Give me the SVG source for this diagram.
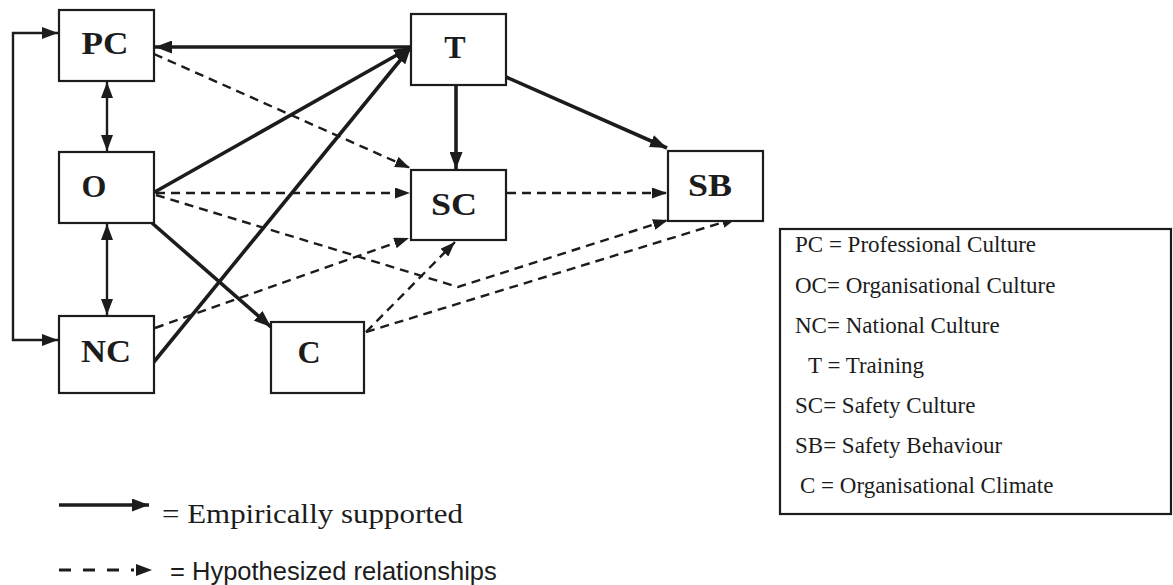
<svg xmlns="http://www.w3.org/2000/svg" width="1173" height="585" viewBox="0 0 1173 585">
  <style>
    .box { fill: #ffffff; stroke: #1c1c1c; stroke-width: 2.2; }
    .lbl { font-family: "Liberation Serif", "Times New Roman", serif; font-weight: bold; font-size: 32px; fill: #1c1c1c; text-anchor: middle; }
    .key { font-family: "Liberation Serif", "Times New Roman", serif; font-size: 23px; fill: #1c1c1c; }
    .solid { fill: none; stroke: #1c1c1c; stroke-width: 3.6; }
    .thin { fill: none; stroke: #1c1c1c; stroke-width: 2.4; }
    .dash { fill: none; stroke: #1c1c1c; stroke-width: 2.4; stroke-dasharray: 9 6; }
  </style>
  <defs>
    <marker id="headBig" markerUnits="userSpaceOnUse" markerWidth="17" markerHeight="13" refX="17" refY="6.5" orient="auto">
      <path d="M0,0 L17,6.5 L0,13 z" fill="#1c1c1c"/>
    </marker>
    <marker id="headThin" markerUnits="userSpaceOnUse" markerWidth="16" markerHeight="12" refX="16" refY="6" orient="auto-start-reverse">
      <path d="M0,0 L16,6 L0,12 z" fill="#1c1c1c"/>
    </marker>
    <marker id="headDash" markerUnits="userSpaceOnUse" markerWidth="15" markerHeight="11" refX="15" refY="5.5" orient="auto">
      <path d="M0,0 L15,5.5 L0,11 z" fill="#1c1c1c"/>
    </marker>
  </defs>

  <!-- connectors -->
  <g id="connectors">
    <!-- empirically supported links -->
    <line class="solid" x1="411" y1="47" x2="155" y2="47" marker-end="url(#headBig)"/>
    <line class="solid" x1="153" y1="193" x2="411" y2="47" marker-end="url(#headBig)"/>
    <line class="solid" x1="153" y1="363" x2="411" y2="47" marker-end="url(#headBig)"/>
    <line class="solid" x1="152" y1="223" x2="271" y2="327" marker-end="url(#headBig)"/>
    <line class="solid" x1="456" y1="85" x2="456" y2="169" marker-end="url(#headBig)"/>
    <line class="solid" x1="506" y1="77" x2="667" y2="148" marker-end="url(#headBig)"/>
    <!-- two-way links between the cultures -->
    <line class="thin" x1="107" y1="82" x2="107" y2="151" marker-start="url(#headThin)" marker-end="url(#headThin)"/>
    <line class="thin" x1="107" y1="224" x2="107" y2="315" marker-start="url(#headThin)" marker-end="url(#headThin)"/>
    <path class="thin" d="M58,33 H13 V340 H58" marker-start="url(#headThin)" marker-end="url(#headThin)"/>
    <!-- hypothesized links -->
    <line class="dash" x1="154" y1="54" x2="410" y2="168" marker-end="url(#headDash)"/>
    <line class="dash" x1="156" y1="193" x2="410" y2="193" marker-end="url(#headDash)"/>
    <path class="dash" d="M156,195 L458,287 L668,220" marker-end="url(#headDash)"/>
    <line class="dash" x1="155" y1="328" x2="409" y2="238" marker-end="url(#headDash)"/>
    <line class="dash" x1="366" y1="332" x2="455" y2="242" marker-end="url(#headDash)"/>
    <line class="dash" x1="366" y1="332" x2="737" y2="218" marker-end="url(#headDash)"/>
    <line class="dash" x1="507" y1="193" x2="667" y2="193" marker-end="url(#headDash)"/>
  </g>

  <!-- nodes -->
  <g id="node-PC"><rect class="box" x="59" y="10" width="95" height="71"/><text class="lbl" x="105" y="54" font-size="32" textLength="47" lengthAdjust="spacingAndGlyphs">PC</text></g>
  <g id="node-O"><rect class="box" x="59" y="152" width="95" height="71"/><text class="lbl" x="94" y="197">O</text></g>
  <g id="node-NC"><rect class="box" x="59" y="316" width="95" height="77"/><text class="lbl" x="106" y="362" font-size="33" textLength="50" lengthAdjust="spacingAndGlyphs">NC</text></g>
  <g id="node-C"><rect class="box" x="271" y="322" width="93" height="71"/><text class="lbl" x="309" y="363" font-size="31">C</text></g>
  <g id="node-T"><rect class="box" x="411" y="14" width="95" height="71"/><text class="lbl" x="455" y="58" font-size="37">T</text></g>
  <g id="node-SC"><rect class="box" x="411" y="170" width="95" height="70"/><text class="lbl" x="454" y="215" font-size="35" textLength="46" lengthAdjust="spacingAndGlyphs">SC</text></g>
  <g id="node-SB"><rect class="box" x="668" y="151" width="95" height="70"/><text class="lbl" x="710" y="196" font-size="34" textLength="44" lengthAdjust="spacingAndGlyphs">SB</text></g>

  <!-- abbreviation key -->
  <g id="key">
    <rect x="780" y="229" width="391" height="285" fill="#ffffff" stroke="#1c1c1c" stroke-width="2.2"/>
    <text class="key" x="795" y="252">PC = Professional Culture</text>
    <text class="key" x="795" y="293">OC= Organisational Culture</text>
    <text class="key" x="795" y="333">NC= National Culture</text>
    <text class="key" x="808" y="373">T = Training</text>
    <text class="key" x="795" y="413">SC= Safety Culture</text>
    <text class="key" x="795" y="453">SB= Safety Behaviour</text>
    <text class="key" x="800" y="493">C = Organisational Climate</text>
  </g>

  <!-- line style legend -->
  <g id="line-legend">
    <line class="solid" x1="59" y1="505" x2="149" y2="505" stroke-width="3" marker-end="url(#headBig)"/>
    <text x="162" y="523" font-family="Liberation Serif, Times New Roman, serif" font-size="28" fill="#1c1c1c" textLength="301" lengthAdjust="spacingAndGlyphs">= Empirically supported</text>
    <line x1="59" y1="570" x2="134" y2="570" stroke="#1c1c1c" stroke-width="3.2" stroke-dasharray="12 12"/>
    <path d="M136,564 L152,570 L136,576 z" fill="#1c1c1c"/>
    <text x="170" y="580" font-family="Liberation Sans, Arial, sans-serif" font-size="25.5" fill="#1c1c1c">= Hypothesized relationships</text>
  </g>
</svg>
